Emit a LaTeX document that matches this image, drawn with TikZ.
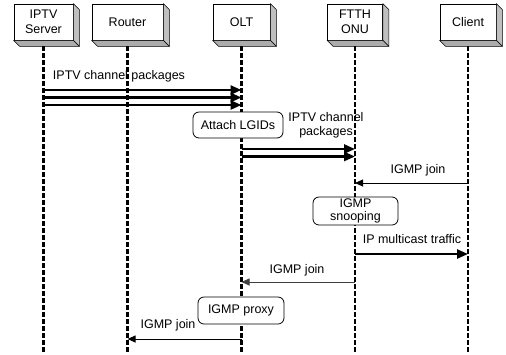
\documentclass[tikz,border=0pt]{standalone}
\usepackage{fontspec}
\setmainfont{Liberation Sans}
\usetikzlibrary{arrows.meta}
\newcommand\actorbox[4]{%
  \node[actor,minimum width=#3] (#1) at (#2,22) {#4};
  \filldraw[fill=gray!50,line width=0.6bp,line join=round] (#1.north east) -- ++(6,6) -- ([shift={(6,6)}]#1.south east) -- (#1.south east) -- cycle;
  \filldraw[fill=gray!65,line width=0.6bp,line join=round] (#1.south west) -- (#1.south east) -- ++(6,6) -- ([shift={(6,6)}]#1.south west) -- cycle;
  \draw[lifeline] ([yshift=-6bp]#1.south) -- (#1.south |- 0,353);
}
\begin{document}
\begin{tikzpicture}[x=1bp,y=-1bp,
  font=\fontsize{12.5bp}{14.5bp}\selectfont,
  actor/.style={draw,fill=white,inner sep=0,minimum height=36bp,align=center,line width=0.8bp},
  lifeline/.style={line width=2.2bp,dash pattern=on 4.5bp off 2.5bp},
  bigmsg/.style={line width=2.4bp,-{Triangle[length=11bp,width=9bp]}},
  msg/.style={line width=0.9bp,-{Triangle[length=8bp,width=7bp]}},
  proc/.style={draw,fill=white,rounded corners=6bp,inner sep=0,align=center,line width=0.8bp},
  lbl/.style={inner sep=0}
]
\useasboundingbox (0,0) rectangle (506,354);
\fill[white] (0,0) rectangle (506,354);

\actorbox{srv}{43.5}{59bp}{IPTV\\Server}
\actorbox{rtr}{127.5}{71bp}{Router}
\actorbox{olt}{241.5}{57bp}{OLT}
\actorbox{onu}{355}{55bp}{FTTH\\ONU}
\actorbox{cli}{468}{56bp}{Client}

% IPTV channel packages: server -> OLT
\node[lbl,anchor=base] (l1) at (119,79.5) {IPTV channel packages};
\draw[bigmsg] (srv |- 0,90) -- (olt |- 0,90);
\draw[bigmsg] (srv |- 0,97.5) -- (olt |- 0,97.5);
\draw[bigmsg] (srv |- 0,105) -- (olt |- 0,105);

% Attach LGIDs
\node[proc,minimum width=90bp,minimum height=26bp] (p1) at (238,125) {Attach LGIDs};
\node[lbl,align=center,font=\fontsize{12.5bp}{14bp}\selectfont] (l2) at (326,124.8) {IPTV channel\\packages};
\draw[bigmsg] (olt |- 0,149) -- (onu |- 0,149);
\draw[bigmsg] (olt |- 0,156.5) -- (onu |- 0,156.5);

% IGMP join client -> ONU
\node[lbl,anchor=base] (l3) at (418,173) {IGMP join};
\draw[msg] (cli |- 0,183) -- (onu |- 0,183);

% IGMP snooping
\node[proc,minimum width=85bp,minimum height=28bp,font=\fontsize{12.5bp}{12.5bp}\selectfont] (p2) at (355.5,211) {IGMP\\snooping};

% IP multicast traffic ONU -> client
\node[lbl,anchor=base] (l4) at (412,243) {IP multicast traffic};
\draw[bigmsg] (onu |- 0,254) -- (cli |- 0,254);

% IGMP join ONU -> OLT
\node[lbl,anchor=base] (l5) at (297,273) {IGMP join};
\draw[msg,draw=black!75] (onu |- 0,282) -- (olt |- 0,282);

% IGMP proxy
\node[proc,minimum width=86bp,minimum height=27bp] (p3) at (241,310.5) {IGMP proxy};

% IGMP join OLT -> router
\node[lbl,anchor=base] (l6) at (168,328) {IGMP join};
\draw[msg] (olt |- 0,339) -- (rtr |- 0,339);
\end{tikzpicture}
\end{document}
